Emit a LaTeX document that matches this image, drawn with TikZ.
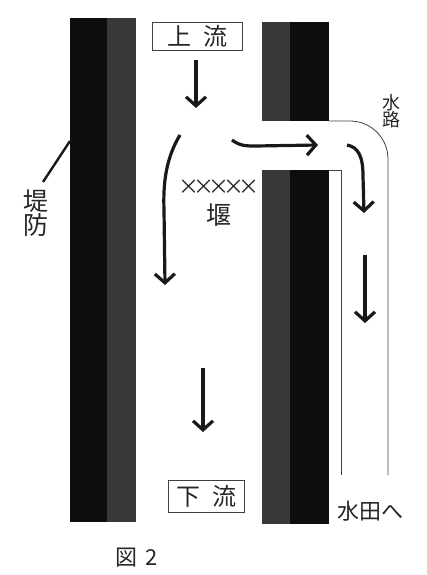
\documentclass[tikz,border=0pt]{standalone}
\usepackage{fontspec}
\setmainfont{Noto Sans CJK JP}
\usetikzlibrary{arrows, arrows.meta}
\usetikzlibrary{calc}

\begin{document}
\begin{tikzpicture}[x=1pt, y=-1pt,
    flow/.style={line width=3.2pt, black!90, -{Straight Barb[length=9pt, width=20pt]}},
    label/.style={inner sep=0pt, text=black!85, font=\fontsize{25}{23}\selectfont},
    sign/.style={draw=black!75, line width=0.8pt, inner sep=0pt, text=black!85, font=\fontsize{24}{24}\selectfont},
    bank/.style={line width=0.8pt, black!75},
    solid part/.style={fill=black!95},
    grainy part/.style={fill=black!78}]
    \useasboundingbox (0,0) rectangle (426,575);

    % dikes
    \fill[solid part] (70,18) rectangle (107,522);
    \fill[grainy part] (107,18) rectangle (136,522);
    \fill[grainy part] (262,22) rectangle (290,121);
    \fill[solid part] (290,22) rectangle (329,121);
    \fill[grainy part] (262,170) rectangle (290,524);
    \fill[solid part] (290,170) rectangle (329,524);

    % channel
    \draw[bank, rounded corners=38pt] (329,121) -- (388,121) -- (388,475);
    \draw[bank] (329,170) -- (341,170) -- (341,475);

    % flow
    \draw[flow] (196,60) -- (196,108);
    \draw[flow] (180,135) .. controls (166,158) and (163,183) .. (164,210) -- (165,285);
    \draw[flow] (232,140) .. controls (240,146) and (246,146) .. (256,146) -- (318,145);
    \draw[flow] (347,145) .. controls (358,147) and (363,156) .. (363,176) -- (364,213);
    \draw[flow] (365,255) -- (365,323);
    \draw[flow] (203,368) -- (203,432);

    \node[sign, minimum width=90pt, minimum height=28pt] (up) at (197,36) {上\hspace{12pt}流};
    \node[sign, minimum width=76pt, minimum height=32pt] (down) at (206,496) {下\hspace{12pt}流};
    \node[label, font=\fontsize{21}{21}\selectfont] (marks) at (219,187) {×\kern-6pt×\kern-6pt×\kern-6pt×\kern-6pt×};
    \node[label] (weir) at (219,215) {堰};
    \node[label, align=center] (teibou) at (36,213) {堤\\防};
    \node[label, align=center, font=\fontsize{18}{17}\selectfont] (suiro) at (391,111) {水\\路};
    \node[label, font=\fontsize{22}{22}\selectfont] (suiden) at (370,511) {水田へ};
    \node[label, font=\fontsize{22}{22}\selectfont] (fig) at (137,558) {図\hspace{8pt}2};

    \coordinate (leadfoot) at (43,182);
    \coordinate (bankedge) at (70,141);
    \draw[line width=2.4pt, black!90] (leadfoot) -- (bankedge);
\end{tikzpicture}
\end{document}
